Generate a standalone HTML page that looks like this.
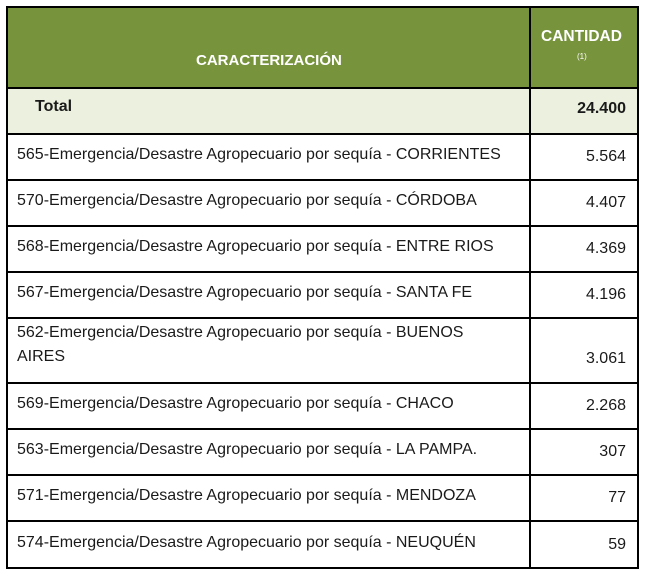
<!DOCTYPE html>
<html><head><meta charset="utf-8"><style>
body{margin:0;background:#fff;width:648px;height:577px;position:relative;font-family:"Liberation Sans",Arial,sans-serif;color:#1a1a1a;}
.b{position:absolute;background:#000;}
.c{position:absolute;font-size:16px;white-space:nowrap;}
.r{position:absolute;font-size:16px;right:22px;text-align:right;}
</style></head><body>
<div style="position:absolute;left:7px;top:7px;width:631px;height:81px;background:#77933c"></div>
<div style="position:absolute;left:7px;top:88px;width:631px;height:45px;background:#ebf1de"></div>
<div class="b" style="left:6px;top:6px;width:633px;height:2px"></div>
<div class="b" style="left:6px;top:567px;width:633px;height:2px"></div>
<div class="b" style="left:6px;top:6px;width:2px;height:563px"></div>
<div class="b" style="left:637px;top:6px;width:2px;height:563px"></div>
<div class="b" style="left:529px;top:6px;width:2px;height:563px"></div>
<div class="b" style="left:6px;top:87px;width:633px;height:2px"></div>
<div class="b" style="left:6px;top:133px;width:633px;height:2px"></div>
<div class="b" style="left:6px;top:179px;width:633px;height:2px"></div>
<div class="b" style="left:6px;top:225px;width:633px;height:2px"></div>
<div class="b" style="left:6px;top:271px;width:633px;height:2px"></div>
<div class="b" style="left:6px;top:317px;width:633px;height:2px"></div>
<div class="b" style="left:6px;top:382px;width:633px;height:2px"></div>
<div class="b" style="left:6px;top:428px;width:633px;height:2px"></div>
<div class="b" style="left:6px;top:474px;width:633px;height:2px"></div>
<div class="b" style="left:6px;top:520px;width:633px;height:2px"></div>

<div class="c" style="left:196px;top:52px;color:#fff;font-weight:bold;font-size:15px">CARACTERIZACIÓN</div>
<div class="c" style="left:541px;top:28px;color:#fff;font-weight:bold;font-size:15.5px">CANTIDAD</div>
<div class="c" style="left:577px;top:52px;color:#fff;font-size:8px">(1)</div>

<div class="c" style="left:35px;top:98px;font-weight:bold">Total</div>
<div class="r" style="top:100px;font-weight:bold">24.400</div>

<div class="c" style="left:17px;top:146px">565-Emergencia/Desastre Agropecuario por sequía - CORRIENTES</div>
<div class="r" style="top:148px">5.564</div>
<div class="c" style="left:17px;top:192px">570-Emergencia/Desastre Agropecuario por sequía - CÓRDOBA</div>
<div class="r" style="top:194px">4.407</div>
<div class="c" style="left:17px;top:238px">568-Emergencia/Desastre Agropecuario por sequía - ENTRE RIOS</div>
<div class="r" style="top:240px">4.369</div>
<div class="c" style="left:17px;top:284px">567-Emergencia/Desastre Agropecuario por sequía - SANTA FE</div>
<div class="r" style="top:286px">4.196</div>
<div class="c" style="left:17px;top:324px">562-Emergencia/Desastre Agropecuario por sequía - BUENOS</div>
<div class="c" style="left:17px;top:348px">AIRES</div>
<div class="r" style="top:350px">3.061</div>
<div class="c" style="left:17px;top:395px">569-Emergencia/Desastre Agropecuario por sequía - CHACO</div>
<div class="r" style="top:397px">2.268</div>
<div class="c" style="left:17px;top:441px">563-Emergencia/Desastre Agropecuario por sequía - LA PAMPA.</div>
<div class="r" style="top:443px">307</div>
<div class="c" style="left:17px;top:487px">571-Emergencia/Desastre Agropecuario por sequía - MENDOZA</div>
<div class="r" style="top:489px">77</div>
<div class="c" style="left:17px;top:534px">574-Emergencia/Desastre Agropecuario por sequía - NEUQUÉN</div>
<div class="r" style="top:536px">59</div>
</body></html>
